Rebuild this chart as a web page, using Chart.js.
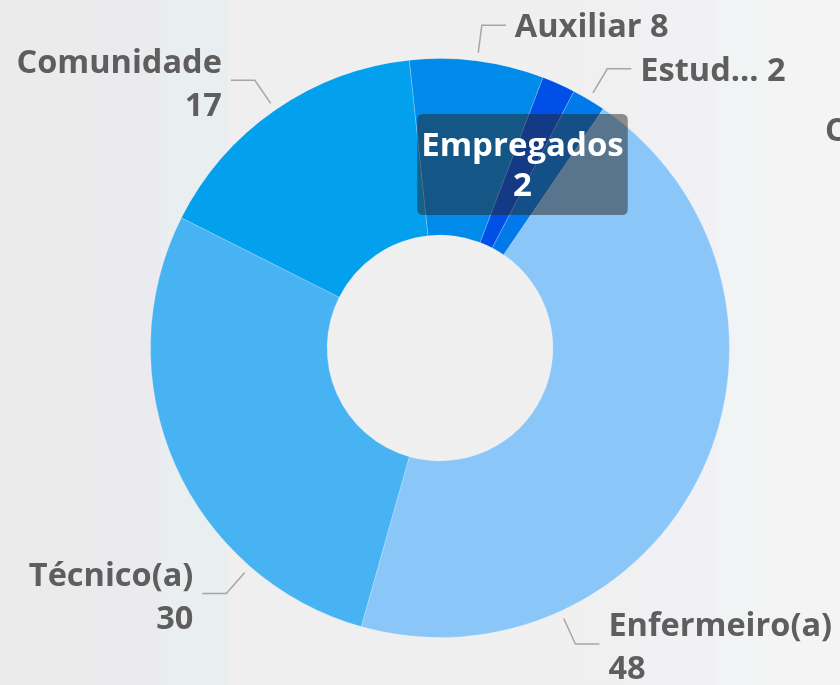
<!DOCTYPE html>
<html>
<head>
<meta charset="utf-8">
<script src="https://cdn.jsdelivr.net/npm/chart.js@4/dist/chart.umd.min.js"></script>
<style>
  html, body { margin: 0; padding: 0; overflow: hidden; }
  body {
    width: 840px; height: 685px; position: relative;
    background: linear-gradient(to right,
      #ebebeb 0px, #ebebeb 91px,
      #ebeaee 91px, #ebeaee 161px,
      #e9eef0 161px, #e9eef0 228px,
      #efefef 228px, #f0f0f0 640px,
      #f1f0f4 640px, #f1f0f4 718px,
      #f0f4f5 718px, #f0f4f5 762px,
      #f4f4f4 762px, #f4f4f4 840px);
  }
  #chart { position: absolute; left: 0; top: 0; }
  .cut { position: absolute; left: 825px; top: 107px; white-space: nowrap;
    font: 700 32px "Segoe UI", "Open Sans", sans-serif; color: #605E5C; }
</style>
</head>
<body>
<canvas id="chart" width="840" height="685"></canvas>
<div class="cut">C</div>
<script>
const categories = ['Enfermeiro(a)', 'Técnico(a)', 'Comunidade', 'Auxiliar', 'Empregados', 'Estud...'];
const values = [48, 30, 17, 8, 2, 2];
const sliceColors = ['#8AC7F8', '#48B3F3', '#03A0EE', '#008BEB', '#0050E8', '#007AEB'];
// where along each slice the leader line leaves (null = no label)
const labelAnchor = [0.75, 0.25, 0.5, 0.5, null, 0.5];

const labelFont = '700 32.5px "Segoe UI", "Open Sans", sans-serif';
const labelColor = '#605E5C';

const outsideLabels = {
    id: 'outsideLabels',
    afterDatasetsDraw(chart) {
        const ctx = chart.ctx;
        const meta = chart.getDatasetMeta(0);
        ctx.save();
        ctx.font = labelFont;
        ctx.textBaseline = 'middle';
        meta.data.forEach((arc, i) => {
            const f = labelAnchor[i];
            if (f === null || f === undefined) return;
            const p = arc.getProps(['x', 'y', 'startAngle', 'endAngle', 'outerRadius'], true);
            const a = p.startAngle + (p.endAngle - p.startAngle) * f;
            const r1 = p.outerRadius + 8, r2 = p.outerRadius + 36;
            const x1 = p.x + Math.cos(a) * r1, y1 = p.y + Math.sin(a) * r1;
            const x2 = p.x + Math.cos(a) * r2, y2 = p.y + Math.sin(a) * r2;
            const right = Math.cos(a) >= 0;
            const x3 = x2 + (right ? 24 : -24);

            ctx.strokeStyle = '#A6A6A6';
            ctx.lineWidth = 1.5;
            ctx.beginPath();
            ctx.moveTo(x1, y1);
            ctx.lineTo(x2, y2);
            ctx.lineTo(x3, y2);
            ctx.stroke();

            const tx = x3 + (right ? 9 : -9);
            ctx.fillStyle = labelColor;
            ctx.textAlign = right ? 'left' : 'right';
            const label = chart.data.labels[i];
            const val = String(chart.data.datasets[0].data[i]);
            const oneLine = label + ' ' + val;
            if (ctx.measureText(oneLine).width < 200) {
                ctx.fillText(oneLine, tx, y2 + 3);
            } else {
                ctx.fillText(label, tx, y2 - 17);
                ctx.fillText(val, tx, y2 + 26);
            }
        });
        ctx.restore();
    }
};

const chart = new Chart(document.getElementById('chart'), {
    type: 'doughnut',
    data: {
        labels: categories,
        datasets: [{
            data: values,
            backgroundColor: sliceColors,
            hoverBackgroundColor: sliceColors,
            borderColor: 'rgba(255,255,255,0.2)',
            hoverBorderColor: 'rgba(255,255,255,0.2)',
            borderWidth: 1,
            hoverOffset: 0
        }]
    },
    options: {
        responsive: false,
        animation: false,
        events: [],
        rotation: 34.3,
        cutout: '39%',
        layout: { padding: { left: 150, right: 110, top: 58, bottom: 47 } },
        plugins: {
            legend: { display: false },
            tooltip: {
                animation: false,
                backgroundColor: 'rgba(40,35,35,0.5)',
                titleColor: '#ffffff',
                bodyColor: '#ffffff',
                titleFont: { family: '"Segoe UI", "Open Sans", sans-serif', size: 33, weight: '700' },
                bodyFont: { family: '"Segoe UI", "Open Sans", sans-serif', size: 33, weight: '700' },
                titleAlign: 'center',
                bodyAlign: 'center',
                titleMarginBottom: 0,
                padding: { top: 13, bottom: 9, left: 4, right: 4 },
                cornerRadius: 6,
                caretSize: 0,
                caretPadding: 0,
                xAlign: 'center',
                yAlign: 'center',
                displayColors: false,
                callbacks: {
                    title: items => items[0].label,
                    label: item => item.formattedValue
                }
            }
        }
    },
    plugins: [outsideLabels]
});

chart.tooltip.setActiveElements([{ datasetIndex: 0, index: 4 }], { x: 0, y: 0 });
chart.draw();
</script>
</body>
</html>
